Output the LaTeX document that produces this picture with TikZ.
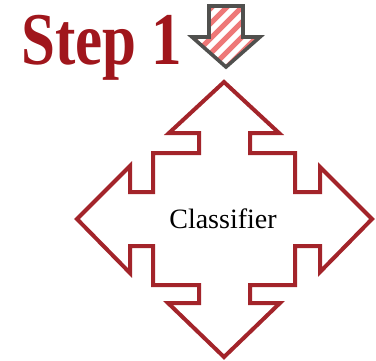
\documentclass[tikz,border=0pt]{standalone}
\usepackage{fontspec}
\setmainfont{Liberation Serif}
\definecolor{arrowred}{RGB}{163,36,42}
\definecolor{titlered}{RGB}{160,22,28}
\definecolor{smallgray}{RGB}{80,80,78}
\definecolor{stripered}{RGB}{238,120,120}
\tikzset{
  quadarrow/.style={draw=arrowred, line width=4pt, line join=miter, fill=white},
  smallarrow/.style={draw=smallgray, line width=3.6pt, line join=miter},
  stripe/.style={draw=stripered, line width=5pt},
  titletext/.style={inner sep=0pt, text=titlered, font=\fontsize{61}{61}\selectfont\bfseries},
  labeltext/.style={inner sep=0pt, font=\fontsize{28}{28}\selectfont}
}
\begin{document}
\begin{tikzpicture}[x=1pt,y=-1pt]
\useasboundingbox (0,0) rectangle (376,360);
% big four-way arrow
\draw[quadarrow] (224,82) -- (279,133) -- (250,133) -- (250,153) -- (295,153) -- (295,192)
  -- (320,192) -- (320,167) -- (372,219) -- (320,272) -- (320,246) -- (295,246)
  -- (295,285) -- (250,285) -- (250,303) -- (280,303) -- (224,357) -- (168,303)
  -- (199,303) -- (199,285) -- (153,285) -- (153,246) -- (130,246) -- (130,273)
  -- (77,219) -- (130,166) -- (130,192) -- (153,192) -- (153,153) -- (199,153)
  -- (199,133) -- (169,133) -- cycle;
\node[labeltext, anchor=base] (cls) at (223,228) {Classifier};
% title
\node[titletext, anchor=base west] (title) at (21,64) {\scalebox{1}[1.22]{Step 1}};
% small striped arrow
\begin{scope}
  \clip (209,6) -- (243,6) -- (243,37) -- (260,37) -- (226,67) -- (192,37) -- (209,37) -- cycle;
  \foreach \k in {0,...,9} {
    \draw[stripe] (185,{\k*15+4}) -- (270,{\k*15-81});
  }
\end{scope}
\draw[smallarrow] (209,6) -- (243,6) -- (243,37) -- (260,37) -- (226,67) -- (192,37) -- (209,37) -- cycle;
\end{tikzpicture}
\end{document}
